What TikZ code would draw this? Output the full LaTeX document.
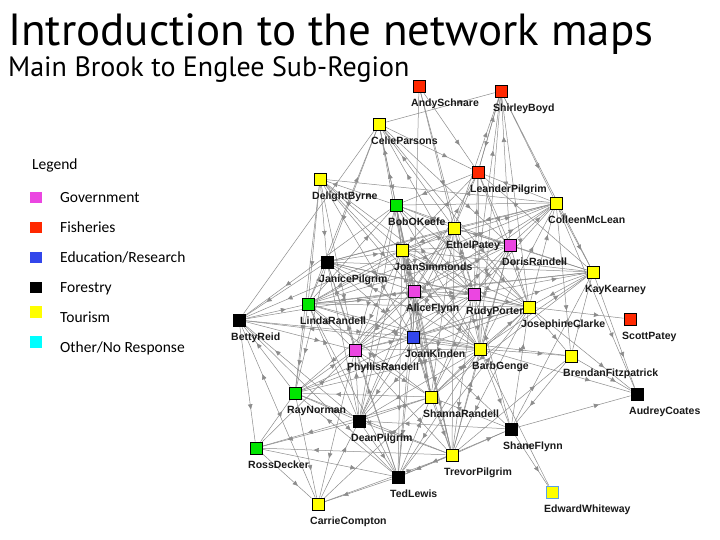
\documentclass[tikz,border=0pt]{standalone}
\usepackage{fontspec}
\usetikzlibrary{arrows.meta,decorations.markings,backgrounds,calc}
\newfontfamily\titlefont{PT Sans}
\newfontfamily\lblfont{Liberation Sans}
\newfontfamily\legfont{Carlito}
\definecolor{gov}{RGB}{235,70,225}
\definecolor{fish}{RGB}{255,40,0}
\definecolor{edu}{RGB}{50,70,235}
\definecolor{forest}{RGB}{0,0,0}
\definecolor{tour}{RGB}{255,255,0}
\definecolor{other}{RGB}{0,255,255}
\definecolor{grn}{RGB}{0,230,0}
\definecolor{edgegray}{RGB}{140,140,140}
\definecolor{selblue}{RGB}{90,160,230}
\tikzset{
  nd/.style={draw=black, line width=0.8pt, minimum size=12pt, inner sep=0pt, fill=#1},
  lbl/.style={font=\lblfont\bfseries\fontsize{10.5}{12}\selectfont, text=black!90, inner sep=0pt, anchor=base west},
  leg/.style={font=\legfont\fontsize{15.5}{17}\selectfont, inner sep=0pt, anchor=base west},
  legbox/.style={minimum size=11.5pt, inner sep=0pt, fill=#1},
  edge/.style={draw=edgegray, line width=0.5pt, postaction={decorate},
    decoration={markings, mark=at position 0.72 with {\arrow{Triangle[length=5pt,width=4.5pt]}}}}
}
\newcommand\pnode[5]{%
  \node[nd=#4] (#1) at (#2,#3) {};
  \node[lbl] (#1l) at (#2-8,#3+20.7) {#5};
}
\begin{document}
\begin{tikzpicture}[x=1pt,y=-1pt]
\useasboundingbox (0,0) rectangle (720,540);
% titles
\node[anchor=base west, inner sep=0pt, text depth=0pt, font=\titlefont\fontsize{45}{50}\selectfont] (title) at (8,46) {Introduction to the network maps};
\node[anchor=base west, inner sep=0pt, text height=19pt, font=\titlefont\fontsize{28}{32}\selectfont] (subtitle) at (8,77) {Main Brook to Englee Sub-Region};
% legend
\node[leg] (legT) at (32,170) {Legend};
\node[legbox=gov] (lg1) at (36,197.5) {};
\node[leg] (lt1) at (60,203) {Government};
\node[legbox=fish] (lg2) at (36,227.5) {};
\node[leg] (lt2) at (60,232.5) {Fisheries};
\node[legbox=edu] (lg3) at (36,257.5) {};
\node[leg] (lt3) at (60,262.5) {Education/Research};
\node[legbox=forest] (lg4) at (36,287.5) {};
\node[leg] (lt4) at (60,292.5) {Forestry};
\node[legbox=tour] (lg5) at (36,312) {};
\node[leg] (lt5) at (60,322) {Tourism};
\node[legbox=other] (lg6) at (36,342) {};
\node[leg] (lt6) at (60,352) {Other/No Response};
% people
\pnode{AS}{419}{86}{fish}{AndySchnare}
\pnode{SB}{501}{91}{fish}{ShirleyBoyd}
\pnode{CP}{379}{124}{tour}{CelieParsons}
\pnode{LP}{478}{172}{fish}{LeanderPilgrim}
\pnode{DB}{320}{179}{tour}{DelightByrne}
\pnode{BO}{396}{205}{grn}{BobOKeefe}
\pnode{CM}{556}{203}{tour}{ColleenMcLean}
\pnode{EP}{454}{228}{tour}{EthelPatey}
\pnode{DR}{510}{245}{gov}{DorisRandell}
\pnode{JS}{402}{250}{tour}{JoanSimmonds}
\pnode{JP}{327}{262}{forest}{JanicePilgrim}
\pnode{KK}{593}{272}{tour}{KayKearney}
\pnode{AF}{414}{291}{gov}{AliceFlynn}
\pnode{RP}{474}{294}{gov}{RudyPorter}
\pnode{JC}{529}{307}{tour}{JosephineClarke}
\pnode{LR}{308}{304}{grn}{LindaRandell}
\pnode{BR}{239}{320}{forest}{BettyReid}
\pnode{SP}{630}{319}{fish}{ScottPatey}
\pnode{JK}{413}{337}{edu}{JoanKinden}
\pnode{PR}{355}{350}{gov}{PhyllisRandell}
\pnode{BG}{480}{349}{tour}{BarbGenge}
\pnode{BF}{571}{356}{tour}{BrendanFitzpatrick}
\pnode{RN}{295}{393}{grn}{RayNorman}
\pnode{AC}{637}{394}{forest}{AudreyCoates}
\pnode{SR}{431}{397}{tour}{ShannaRandell}
\pnode{DP}{359}{421}{forest}{DeanPilgrim}
\pnode{SF}{511}{429}{forest}{ShaneFlynn}
\pnode{RD}{256}{448}{grn}{RossDecker}
\pnode{TP}{452}{455}{tour}{TrevorPilgrim}
\pnode{TL}{398}{477}{forest}{TedLewis}
\node[nd=tour, draw=selblue] (EW) at (552,492) {};
\node[lbl] (EWl) at (544,512.7) {EdwardWhiteway};
\pnode{CC}{318}{504}{tour}{CarrieCompton}
% connections
\begin{pgfonlayer}{background}
\fill[white] (0,0) rectangle (720,540);
\foreach \a/\b in {AS/LP, AS/JK, AS/EP, AS/RP, CP/SB, SB/LP, LP/SB, SB/CM, EP/SB, RP/SB, SB/JC, SB/KK, DR/SB, SB/BG,
  CP/LP, LR/CP, CP/JP, BO/CP, CP/JS, AF/CP, EP/CP, CP/DR, RP/CP, CP/JC, BR/CP,
  LP/BO, EP/LP, LP/JS, CM/LP, LP/DR, RP/LP, LP/JC, KK/LP, AF/LP, LP/BG,
  CM/DB, DB/JP, DB/LR, JS/DB, DB/AF, DB/RP, DB/JK, DB/BG, DB/RN, DB/PR, DB/BO,
  CM/BO, BO/EP, JS/BO, BO/AF, BO/JK, DR/BO, BO/RP, JC/BO, BO/PR, LR/BO, BO/BR, BO/DP, SR/BO, BO/TP, BG/BO,
  CM/EP, JS/CM, CM/JP, DR/CM, CM/RP, JC/CM, CM/KK, AF/CM, BG/CM, CM/BF, CM/AC, LR/CM, CM/PR,
  EP/JS, JP/EP, DR/EP, EP/AF, RP/EP, EP/JC, KK/EP, EP/JK, LR/EP, BG/EP, EP/SR, TP/EP, EP/PR, DP/EP,
  JS/DR, DR/RP, JC/DR, DR/KK, AF/DR, DR/BG, JK/DR, DR/LR, SR/DR, DR/TP,
  JP/JS, JS/AF, RP/JS, JS/JC, KK/JS, JS/LR, JK/JS, JS/PR, BG/JS, JS/BR, SR/JS, JS/DP, TP/JS, JS/TL,
  JP/AF, LR/JP, JP/BR, RP/JP, JP/JC, KK/JP, JP/JK, PR/JP, JP/RN, BG/JP, JP/DP, TL/JP,
  RP/KK, KK/JC, BG/KK, KK/AF, KK/BF, KK/AC, JK/KK, KK/SR, SF/KK, KK/LR,
  AF/RP, JC/AF, AF/LR, JK/AF, AF/PR, BG/AF, AF/SR, DP/AF, AF/TP, TL/AF, AF/RN, BR/AF,
  RP/JC, JK/RP, RP/BG, LR/RP, RP/PR, SR/RP, RP/TP, SF/RP, RP/DP,
  JC/SP, BG/JC, JC/BF, JK/JC, JC/LR, PR/JC, JC/SR, SF/JC, JC/TP, TL/JC, JC/RN, JC/AC,
  BR/LR, LR/JK, PR/LR, LR/RN, BG/LR, LR/SR, DP/LR, LR/TL,
  BR/PR, RN/BR, BR/JK, DP/BR, BR/RD, CC/BR, BR/TL, BG/BR,
  PR/JK, JK/BG, JK/BF, SR/JK, JK/DP, JK/SF, TP/JK, JK/TL, RN/JK,
  PR/BG, RN/PR, PR/SR, DP/PR, PR/TP, TL/PR, RD/PR, PR/CC,
  BG/BF, BG/AC, SR/BG, BG/SF, TP/BG, BG/TL, RN/BG, BG/DP,
  BF/AC, BF/SF, TP/BF,
  SR/RN, RN/DP, RD/RN, RN/CC, TL/RN, RN/TP,
  SF/AC, DP/SR, SR/TP, TL/SR, SF/SR, SR/RD, CC/SR,
  SF/DP, DP/RD, DP/TL, TP/DP, CC/DP,
  SF/EW, TP/SF, SF/TL, BG/EW,
  RD/TL, TP/RD, RD/CC, TP/TL, CC/TP, TL/CC}
  \draw[edge] (\a) -- (\b);
\end{pgfonlayer}
\end{tikzpicture}
\end{document}
